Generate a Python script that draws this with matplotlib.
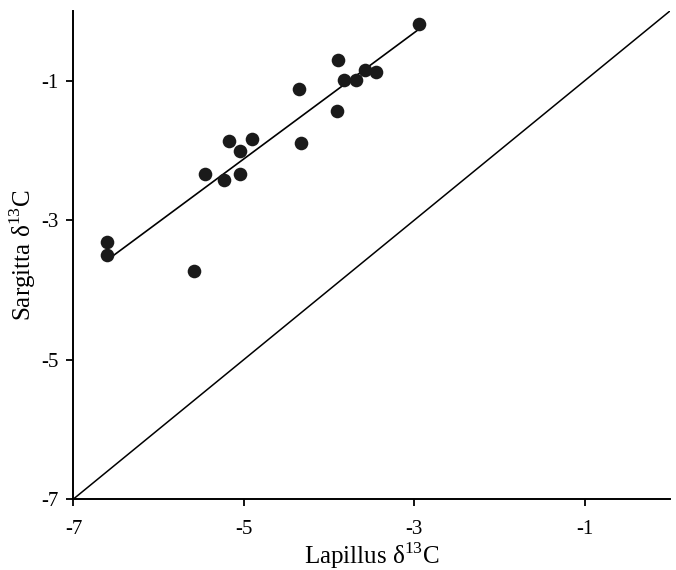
import numpy as np
import matplotlib
matplotlib.use("Agg")
import matplotlib.pyplot as plt

# Data
lapillus = [-6.61, -6.61, -5.58, -5.46, -5.23, -5.17, -5.04, -5.04, -4.90,
            -4.33, -3.91, -4.35, -3.90, -3.83, -3.68, -3.58, -3.45, -2.95]
sargitta = [-3.31, -3.50, -3.73, -2.34, -2.43, -1.87, -2.01, -2.34, -1.83,
            -1.89, -1.43, -1.12, -0.71, -0.99, -0.99, -0.84, -0.88, -0.19]
x_ticks = [-7, -5, -3, -1]
y_ticks = [-7, -5, -3, -1]

plt.rcParams['font.family'] = ['Liberation Serif', 'DejaVu Serif']
plt.rcParams['mathtext.fontset'] = 'custom'
plt.rcParams['mathtext.rm'] = 'Liberation Serif'
plt.rcParams['axes.unicode_minus'] = False

fig = plt.figure(figsize=(6.76, 5.70), dpi=100)
ax = fig.add_axes([0.1087, 0.1246, 0.991 - 0.1087, 0.9807 - 0.1246])

x = np.array(lapillus)
y = np.array(sargitta)
ax.plot(x, y, 'o', color='#1a1a1a', markersize=9.8, markeredgewidth=0, zorder=3)

# regression line
m, b = np.polyfit(x, y, 1)
xs = np.array([x.min(), x.max()])
ax.plot(xs, m * xs + b, color='black', lw=1.2)

# 1:1 line
ax.plot([-7, 0], [-7, 0], color='black', lw=1.1)

ax.set_xlim(-7, 0)
ax.set_ylim(-7, 0)
ax.set_xticks(x_ticks)
ax.set_yticks(y_ticks)
ax.set_xticklabels([str(t) for t in x_ticks])
ax.set_yticklabels([str(t) for t in y_ticks])
ax.tick_params(direction='out', length=5, width=1.3, labelsize=15)
ax.tick_params(axis='x', pad=10)
ax.tick_params(axis='y', pad=6)
for s in ['top', 'right']:
    ax.spines[s].set_visible(False)
for s in ['left', 'bottom']:
    ax.spines[s].set_linewidth(1.4)

ax.set_xlabel(r'Lapillus δ$^{\mathrm{13}}$C', fontsize=18, labelpad=1)
ax.set_ylabel(r'Sargitta δ$^{\mathrm{13}}$C', fontsize=18, labelpad=2)

fig.savefig('out.png', dpi=100)
